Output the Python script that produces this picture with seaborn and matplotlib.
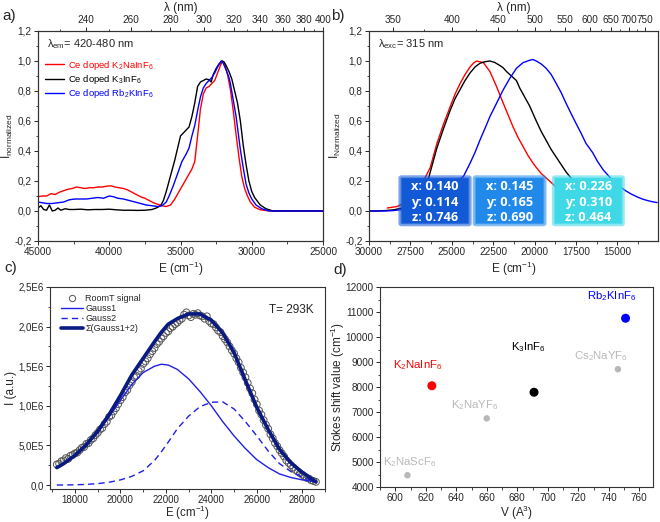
import numpy as np
import matplotlib
matplotlib.use('Agg')
import matplotlib.pyplot as plt
from matplotlib.ticker import MultipleLocator, FuncFormatter, FixedLocator
from matplotlib.lines import Line2D
from matplotlib.patches import FancyBboxPatch
import seaborn as sns

# ---- a) excitation spectra (E in cm-1, normalized intensity)
exc_na_E = [45000, 44700, 44400, 44100, 43800, 43500, 43200, 42900, 42600, 42300, 42000, 41700,
            41400, 41100, 40800, 40500, 40200, 39900, 39600, 39300, 39000, 38700, 38400, 38100,
            37800, 37500, 37200, 36900, 36600, 36300, 36000, 35700, 35400, 35100, 34800, 34500,
            34200, 34000, 33800, 33600, 33400, 33200, 33000, 32800, 32600, 32400, 32200, 32050,
            31900, 31700, 31500, 31300, 31100, 30900, 30700, 30500, 30300, 30100, 29800, 29400,
            29000, 28500, 27000, 25000]
exc_na_I = [0.095, 0.10, 0.10, 0.115, 0.11, 0.125, 0.135, 0.145, 0.15, 0.16, 0.155, 0.15,
            0.155, 0.155, 0.16, 0.16, 0.165, 0.168, 0.16, 0.155, 0.15, 0.14, 0.125, 0.11,
            0.095, 0.085, 0.07, 0.055, 0.045, 0.035, 0.03, 0.04, 0.08, 0.13, 0.18, 0.23,
            0.28, 0.33, 0.50, 0.68, 0.78, 0.82, 0.83, 0.85, 0.87, 0.92, 0.97, 1.0,
            0.98, 0.91, 0.81, 0.67, 0.51, 0.36, 0.23, 0.15, 0.10, 0.06, 0.025, 0.008,
            0.003, 0.0, 0.0, 0.0]

exc_k3_E = [45000, 44800, 44600, 44400, 44200, 44000, 43800, 43600, 43400, 43100, 42800, 42500,
            42000, 41500, 41000, 40500, 40000, 39500, 39000, 38500, 38000, 37500, 37000, 36700,
            36400, 36200, 36000, 35800, 35600, 35400, 35200, 35000, 34800, 34600, 34400, 34200,
            34000, 33800, 33600, 33400, 33200, 33000, 32850, 32700, 32500, 32300, 32100, 31950,
            31800, 31600, 31400, 31200, 31000, 30800, 30600, 30400, 30200, 30000, 29800, 29600,
            29400, 29000, 28500, 27000, 25000]
exc_k3_I = [0.02, 0.035, 0.01, 0.005, 0.04, 0.0, 0.005, 0.02, 0.005, 0.015, 0.01, 0.01,
            0.012, 0.008, 0.01, 0.01, 0.012, 0.008, 0.005, 0.005, 0.004, 0.005, 0.01, 0.02,
            0.035, 0.07, 0.13, 0.20, 0.27, 0.34, 0.42, 0.50, 0.52, 0.54, 0.56, 0.63,
            0.72, 0.83, 0.86, 0.87, 0.88, 0.875, 0.86, 0.91, 0.95, 0.98, 1.0, 0.995,
            0.97, 0.93, 0.88, 0.80, 0.72, 0.60, 0.44, 0.31, 0.20, 0.13, 0.09, 0.065,
            0.04, 0.015, 0.0, 0.0, 0.0]

exc_rb_E = [45000, 44700, 44400, 44000, 43600, 43200, 42800, 42400, 42000, 41600, 41200, 40800,
            40400, 40000, 39700, 39400, 39000, 38600, 38200, 37800, 37400, 37000, 36600, 36300,
            36000, 35800, 35500, 35200, 34900, 34600, 34400, 34200, 34000, 33800, 33600, 33400,
            33200, 33000, 32800, 32600, 32400, 32150, 32000, 31800, 31600, 31500, 31300, 31100,
            30950, 30800, 30600, 30400, 30200, 30000, 29700, 29300, 28800, 27000, 25000]
exc_rb_I = [0.06, 0.055, 0.05, 0.05, 0.055, 0.06, 0.075, 0.08, 0.08, 0.08, 0.085, 0.09,
            0.085, 0.10, 0.095, 0.085, 0.08, 0.07, 0.06, 0.05, 0.04, 0.035, 0.03, 0.035,
            0.06, 0.10, 0.17, 0.25, 0.33, 0.38, 0.42, 0.50, 0.57, 0.67, 0.76, 0.82,
            0.85, 0.87, 0.89, 0.92, 0.96, 1.0, 0.985, 0.94, 0.89, 0.85, 0.74, 0.63,
            0.52, 0.41, 0.29, 0.18, 0.12, 0.08, 0.04, 0.015, 0.0, 0.0, 0.0]

# ---- b) emission spectra
em_na_E = [28900, 28600, 28300, 28000, 27700, 27400, 27100, 26800, 26620, 26300, 25900, 25500,
           25100, 24800, 24500, 24200, 23900, 23700, 23500, 23300, 23100, 22900, 22700, 22500,
           22300, 22100, 21900, 21600, 21300, 21000, 20700, 20400, 20100, 19900, 19600, 19300,
           19000, 18800, 18500, 18000, 17500, 17000, 16500]
em_na_I = [0.02, 0.025, 0.03, 0.045, 0.07, 0.10, 0.14, 0.19, 0.22, 0.29, 0.45, 0.58,
           0.695, 0.78, 0.85, 0.91, 0.96, 0.985, 1.0, 0.995, 0.99, 0.96, 0.93, 0.88,
           0.83, 0.775, 0.72, 0.64, 0.56, 0.49, 0.43, 0.37, 0.32, 0.29, 0.25, 0.22,
           0.19, 0.17, 0.13, 0.09, 0.06, 0.04, 0.03]

em_k3_E = [30000, 29500, 29000, 28500, 28000, 27700, 27400, 27000, 26700, 26400, 25900, 25500,
           25100, 24800, 24500, 24200, 23900, 23600, 23300, 23000, 22700, 22400, 22100, 21900,
           21700, 21500, 21300, 21100, 20900, 20700, 20500, 20300, 20100, 19900, 19600, 19300,
           19000, 18700, 18400, 18100, 17800, 17500, 17000, 16500, 16000, 15500]
em_k3_I = [0.0, 0.0, 0.003, 0.008, 0.02, 0.035, 0.06, 0.11, 0.16, 0.22, 0.42, 0.55,
           0.67, 0.75, 0.81, 0.87, 0.92, 0.96, 0.985, 0.995, 1.0, 0.99, 0.97, 0.955,
           0.93, 0.91, 0.89, 0.87, 0.82, 0.78, 0.74, 0.70, 0.65, 0.60, 0.53, 0.47,
           0.41, 0.36, 0.31, 0.26, 0.22, 0.18, 0.12, 0.08, 0.05, 0.03]

em_rb_E = [30000, 29000, 28500, 28000, 27500, 27000, 26500, 26000, 25500, 25000, 24700, 24300,
           23900, 23600, 23300, 23000, 22700, 22300, 21900, 21500, 21100, 20700, 20300, 20100,
           19900, 19600, 19300, 19000, 18700, 18400, 18100, 17800, 17500, 17200, 16900, 16500,
           16200, 15850, 15500, 15200, 14850, 14500, 14200, 13850, 13500, 13200, 12900, 12600]
em_rb_I = [0.0, 0.0, 0.003, 0.01, 0.02, 0.035, 0.06, 0.09, 0.13, 0.17, 0.20, 0.23,
           0.318, 0.39, 0.473, 0.55, 0.629, 0.718, 0.807, 0.884, 0.951, 0.989, 1.005, 1.01,
           1.0, 0.98, 0.951, 0.91, 0.851, 0.79, 0.718, 0.65, 0.584, 0.52, 0.451, 0.39,
           0.33, 0.273, 0.23, 0.19, 0.162, 0.135, 0.115, 0.096, 0.08, 0.07, 0.062, 0.056]

cie_labels = ["x: 0.140\ny: 0.114\nz: 0.746",
              "x: 0.145\ny: 0.165\nz: 0.690",
              "x: 0.226\ny: 0.310\nz: 0.464"]
cie_colors = ["#1259d6", "#2189ea", "#3fd8e6"]

# ---- c) room temperature band + gaussian fit (intensity in units of 1E6)
signal_start = 17200
signal_step = 100
signal_I = [0.26, 0.27, 0.30, 0.31, 0.34, 0.33, 0.37, 0.38, 0.40, 0.41, 0.44, 0.47, 0.48,
            0.52, 0.53, 0.57, 0.59, 0.63, 0.66, 0.70, 0.72, 0.77, 0.80, 0.86, 0.88, 0.93,
            0.97, 1.02, 1.07, 1.11, 1.17, 1.20, 1.26, 1.30, 1.36, 1.38, 1.44, 1.47, 1.53,
            1.56, 1.60, 1.65, 1.69, 1.73, 1.78, 1.81, 1.85, 1.88, 1.92, 1.94, 1.98, 2.00,
            2.03, 2.05, 2.08, 2.10, 2.15, 2.18, 2.14, 2.12, 2.16, 2.15, 2.17, 2.14, 2.13,
            2.10, 2.13, 2.07, 2.04, 2.03, 1.99, 1.95, 1.93, 1.88, 1.84, 1.80, 1.75, 1.70,
            1.66, 1.60, 1.55, 1.48, 1.42, 1.36, 1.29, 1.22, 1.16, 1.08, 1.02, 0.94, 0.89,
            0.82, 0.76, 0.71, 0.64, 0.59, 0.53, 0.49, 0.44, 0.40, 0.36, 0.31, 0.28, 0.25,
            0.22, 0.19, 0.17, 0.15, 0.13, 0.11, 0.09, 0.08, 0.06, 0.05, 0.04]
signal_E = signal_start + signal_step * np.arange(len(signal_I))

fit_E = [17200, 17500, 18000, 18500, 19000, 19500, 20000, 20500, 21000, 21500, 21800, 22100,
         22500, 23000, 23500, 24000, 24500, 25000, 25500, 26000, 26500, 27000, 27500, 28000,
         28600]
gauss1_I = [0.22, 0.27, 0.37, 0.50, 0.66, 0.86, 1.07, 1.27, 1.42, 1.50, 1.525, 1.515,
            1.46, 1.34, 1.18, 1.00, 0.80, 0.62, 0.46, 0.32, 0.22, 0.14, 0.095, 0.065, 0.04]
gauss2_I = [0.0, 0.001, 0.003, 0.008, 0.018, 0.035, 0.065, 0.11, 0.18, 0.31, 0.42, 0.54,
            0.71, 0.87, 0.99, 1.045, 1.05, 0.96, 0.80, 0.62, 0.43, 0.27, 0.17, 0.10, 0.04]
sum_I = [0.22, 0.27, 0.375, 0.51, 0.68, 0.89, 1.13, 1.39, 1.60, 1.81, 1.93, 2.03,
         2.10, 2.16, 2.16, 2.08, 1.92, 1.67, 1.32, 0.98, 0.70, 0.45, 0.28, 0.16, 0.04]

# ---- d) Stokes shift vs cell volume
host_names = ["K$_2$NaInF$_6$", "K$_3$InF$_6$", "Rb$_2$KInF$_6$",
              "K$_2$NaScF$_6$", "K$_2$NaYF$_6$", "Cs$_2$NaYF$_6$"]
host_volume = [624, 691, 751, 608, 660, 746]
host_stokes = [8050, 7790, 10750, 4470, 6745, 8710]
host_colors = ["#ff0000", "#000000", "#0000ff", "#b8b8b8", "#b8b8b8", "#b8b8b8"]
host_sizes = [42, 42, 42, 22, 22, 22]
label_offsets = [(-14, 21), (-6, 45), (-14, 22), (2, 13), (-12, 13), (-17, 13)]

sns.set_style("ticks")
plt.rcParams['font.family'] = ['Liberation Sans', 'DejaVu Sans']
plt.rcParams['mathtext.fontset'] = 'custom'
plt.rcParams['mathtext.rm'] = 'Liberation Sans'
plt.rcParams['mathtext.it'] = 'Liberation Sans:italic'
plt.rcParams['mathtext.default'] = 'regular'
plt.rcParams['xtick.direction'] = 'out'
plt.rcParams['ytick.direction'] = 'out'
plt.rcParams['axes.linewidth'] = 0.8
plt.rcParams['axes.edgecolor'] = '#333333'

fig = plt.figure(figsize=(6.6, 5.22), dpi=100)
W, H = 660, 522


def place(l, t, r, b):
    return fig.add_axes([l / W, 1 - b / H, (r - l) / W, (b - t) / H])


ax_a = place(38, 31, 323, 241)
ax_b = place(369, 31, 658, 241)
ax_c = place(50, 287, 325, 489)
ax_d = place(380, 287, 653, 487)

comma = FuncFormatter(lambda v, p: f"{v:.1f}".replace('.', ',').replace('-0,0', '0,0'))


def style_ticks(ax, size=7.2):
    ax.tick_params(which='major', length=3, width=0.7, labelsize=size, right=False, top=False,
                   pad=1.5)
    ax.tick_params(which='minor', length=1.8, width=0.6, right=False, top=False)
    for s in ax.spines.values():
        s.set_visible(True)


def top_lambda(ax, lam_major, lam_minor):
    top = ax.twiny()
    top.set_xlim(ax.get_xlim())
    top.xaxis.set_major_locator(FixedLocator([1e7 / l for l in lam_major]))
    top.xaxis.set_minor_locator(FixedLocator([1e7 / l for l in lam_minor]))
    top.set_xticklabels([str(l) for l in lam_major])
    top.tick_params(which='major', length=3, width=0.7, labelsize=7.2, pad=1.5)
    top.tick_params(which='minor', length=1.8, width=0.6)
    top.set_xlabel("λ (nm)", fontsize=8.5, labelpad=3)
    return top


# ----- panel a
for E, I, c in [(exc_na_E, exc_na_I, '#ff0000'), (exc_k3_E, exc_k3_I, '#000000'),
                (exc_rb_E, exc_rb_I, '#0000ff')]:
    sns.lineplot(x=E, y=I, color=c, lw=1.0, ax=ax_a, sort=False, estimator=None)
ax_a.set_xlim(45000, 25000)
ax_a.set_ylim(-0.2, 1.2)
ax_a.xaxis.set_major_locator(MultipleLocator(5000))
ax_a.xaxis.set_minor_locator(MultipleLocator(2500))
ax_a.yaxis.set_major_locator(MultipleLocator(0.2))
ax_a.yaxis.set_minor_locator(MultipleLocator(0.1))
ax_a.yaxis.set_major_formatter(comma)
style_ticks(ax_a)
ax_a.set_xlabel("E (cm$^{-1}$)", fontsize=8.5)
ax_a.xaxis.set_label_coords(0.5, -0.09)
ax_a.set_ylabel("I$_{\\mathregular{normalized}}$", fontsize=8.5)
ax_a.yaxis.set_label_coords(-0.082, 0.5)
top_lambda(ax_a, [240, 260, 280, 300, 320, 340, 360, 380, 400],
           [230, 250, 270, 290, 310, 330, 350, 370, 390])
ax_a.text(0.03, 0.94, "λ$_{\\mathregular{em}}$= 420-480 nm", transform=ax_a.transAxes,
          fontsize=8, va='center')
leg_a = [Line2D([], [], color=c, lw=1.0) for c in ['#ff0000', '#000000', '#0000ff']]
ax_a.legend(leg_a, ["Ce doped K$_2$NaInF$_6$", "Ce doped K$_3$InF$_6$", "Ce doped Rb$_2$KInF$_6$"],
            loc='upper left', bbox_to_anchor=(0.005, 0.895), frameon=False, fontsize=6.8,
            handlelength=2.0, handletextpad=0.4, labelspacing=0.12, labelcolor='linecolor',
            borderaxespad=0.2)

# ----- panel b
for E, I, c in [(em_na_E, em_na_I, '#ff0000'), (em_k3_E, em_k3_I, '#000000'),
                (em_rb_E, em_rb_I, '#0000ff')]:
    sns.lineplot(x=E, y=I, color=c, lw=1.0, ax=ax_b, sort=False, estimator=None)
ax_b.set_xlim(30000, 12550)
ax_b.set_ylim(-0.2, 1.2)
ax_b.xaxis.set_major_locator(MultipleLocator(2500))
ax_b.xaxis.set_minor_locator(MultipleLocator(1250))
ax_b.yaxis.set_major_locator(MultipleLocator(0.2))
ax_b.yaxis.set_minor_locator(MultipleLocator(0.1))
ax_b.yaxis.set_major_formatter(comma)
style_ticks(ax_b)
ax_b.set_xlabel("E (cm$^{-1}$)", fontsize=8.5)
ax_b.xaxis.set_label_coords(0.5, -0.09)
ax_b.set_ylabel("I$_{\\mathregular{Normalized}}$", fontsize=8.5)
ax_b.yaxis.set_label_coords(-0.09, 0.5)
top_lambda(ax_b, [350, 400, 450, 500, 550, 600, 650, 700, 750],
           [375, 425, 475, 525, 575, 625, 675, 725])
ax_b.text(0.03, 0.94, "λ$_{\\mathregular{exc}}$= 315 nm", transform=ax_b.transAxes,
          fontsize=8, va='center')
# colour-coordinate boxes (axes fraction: left, width)
box_spans = [(0.113, 0.231), (0.370, 0.233), (0.644, 0.230)]
for (x0, w), txt, c in zip(box_spans, cie_labels, cie_colors):
    ax_b.add_patch(FancyBboxPatch((x0, 0.084), w, 0.215, boxstyle='round,pad=0.004',
                                  transform=ax_b.transAxes, fc=c, ec=c, lw=3.0,
                                  alpha=0.55, zorder=9))
    ax_b.add_patch(FancyBboxPatch((x0, 0.084), w, 0.215, boxstyle='round,pad=0.0',
                                  transform=ax_b.transAxes, fc=c, ec='none', zorder=10))
    for k, line in enumerate(txt.split("\n")):
        ax_b.text(x0 + w / 2, 0.258 - 0.074 * k, line, transform=ax_b.transAxes,
                  ha='center', va='center', color='white', fontsize=9.2,
                  fontweight='bold', family='Open Sans', zorder=11)

# ----- panel c
sns.scatterplot(x=signal_E, y=signal_I, marker='o', s=24, facecolors='none',
                edgecolors='#555555', linewidth=0.7, ax=ax_c, zorder=2)
sns.lineplot(x=fit_E, y=gauss1_I, color='#1f1fe6', lw=1.0, ax=ax_c, sort=False,
             estimator=None, zorder=3)
sns.lineplot(x=fit_E, y=gauss2_I, color='#1f1fe6', lw=1.0, ax=ax_c, sort=False,
             estimator=None, zorder=3, linestyle=(0, (4.5, 3)))
sns.lineplot(x=fit_E, y=sum_I, color='#0a1a80', lw=2.6, ax=ax_c, sort=False,
             estimator=None, zorder=4)
ax_c.set_xlim(16900, 29000)
ax_c.set_ylim(-0.05, 2.5)
ax_c.xaxis.set_major_locator(MultipleLocator(2000))
ax_c.xaxis.set_minor_locator(MultipleLocator(1000))
ax_c.yaxis.set_major_locator(FixedLocator([0, 0.5, 1.0, 1.5, 2.0, 2.5]))
ax_c.yaxis.set_minor_locator(FixedLocator([0.25, 0.75, 1.25, 1.75, 2.25]))
ax_c.set_yticklabels(["0,0", "5,0E5", "1,0E6", "1,5E6", "2,0E6", "2,5E6"])
style_ticks(ax_c, size=7.0)
ax_c.set_xlabel("E (cm$^{-1}$)", fontsize=8.3)
ax_c.xaxis.set_label_coords(0.5, -0.073)
ax_c.set_ylabel("I (a.u.)", fontsize=8.5)
ax_c.yaxis.set_label_coords(-0.12, 0.5)
ax_c.text(0.96, 0.87, "T= 293K", transform=ax_c.transAxes, ha='right', fontsize=8.5)
leg_c = [Line2D([], [], ls='none', marker='o', mfc='none', mec='#555555', ms=4.5, mew=0.7),
         Line2D([], [], color='#1f1fe6', lw=1.0),
         Line2D([], [], color='#1f1fe6', lw=1.0, ls=(0, (4.5, 3))),
         Line2D([], [], color='#0a1a80', lw=2.6)]
ax_c.legend(leg_c, ["RoomT signal", "Gauss1", "Gauss2", "Σ(Gauss1+2)"], loc='upper left',
            bbox_to_anchor=(0.02, 0.99), frameon=False, fontsize=6.5, handlelength=2.4,
            handletextpad=0.3, labelspacing=0.1, borderaxespad=0.2)

# ----- panel d
sns.scatterplot(x=host_volume, y=host_stokes, hue=host_names, palette=host_colors,
                size=host_names, sizes=dict(zip(host_names, host_sizes)), legend=False,
                linewidth=0, ax=ax_d, zorder=3)
for name, v, s, c, off in zip(host_names, host_volume, host_stokes, host_colors, label_offsets):
    ax_d.annotate(name, (v, s), xytext=off, textcoords='offset pixels', ha='center',
                  va='center', color=c, fontsize=8.2)
ax_d.set_xlim(590, 769)
ax_d.set_ylim(4000, 12000)
ax_d.xaxis.set_major_locator(MultipleLocator(20))
ax_d.xaxis.set_minor_locator(MultipleLocator(10))
ax_d.yaxis.set_major_locator(MultipleLocator(1000))
ax_d.yaxis.set_minor_locator(MultipleLocator(500))
style_ticks(ax_d)
ax_d.set_xlabel("V (A$^3$)", fontsize=8.5)
ax_d.xaxis.set_label_coords(0.5, -0.085)
ax_d.set_ylabel("Stokes shift value (cm$^{-1}$)", fontsize=8.5)
ax_d.yaxis.set_label_coords(-0.12, 0.5)

for txt, x, y in [("a)", 2, 16), ("b)", 331, 16), ("c)", 4, 268), ("d)", 333, 270)]:
    fig.text(x / W, 1 - y / H, txt, fontsize=11, va='center', ha='left')

fig.savefig("out.png", dpi=100)
